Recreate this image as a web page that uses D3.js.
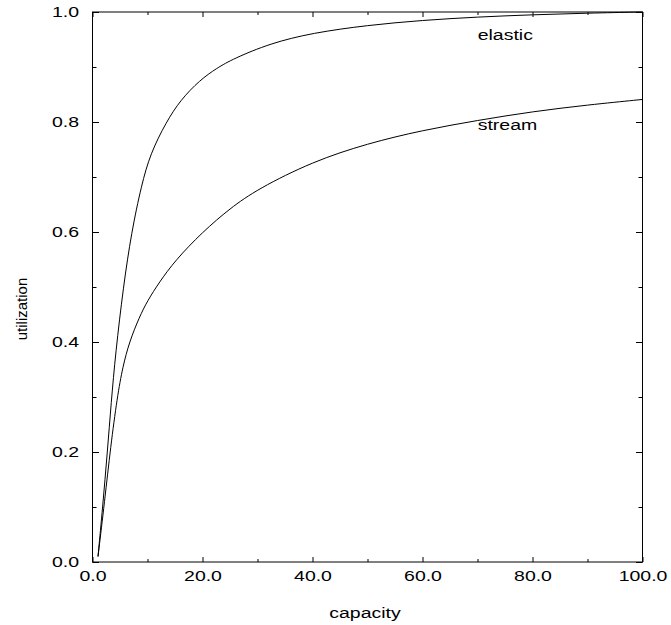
<!DOCTYPE html>
<html>
<head>
<meta charset="utf-8">
<script src="https://cdn.jsdelivr.net/npm/d3@7"></script>
<style>
  html, body { margin: 0; padding: 0; background: #fff; }
  svg text { font-family: "Liberation Sans", Arial, sans-serif; fill: #000; }
</style>
</head>
<body>
<div id="chart"></div>
<script>
// Datos
const elasticCapacity = [1, 1.85, 2.7, 3.4, 4.2, 5.6, 7.1, 8.9, 10.5, 13.4, 16, 19.5, 22.6, 25.6, 32.3, 40, 50, 60, 70, 80, 90, 100];
const elasticUtil     = [0.01, 0.10, 0.20, 0.29, 0.38, 0.50, 0.60, 0.685, 0.742, 0.80, 0.84, 0.876, 0.898, 0.915, 0.943, 0.962, 0.976, 0.985, 0.991, 0.995, 0.998, 1.0];

const streamCapacity = [1, 2.2, 3.3, 4.5, 5.5, 6.7, 8.5, 10, 12.1, 15, 20, 25, 30, 40, 50, 60, 70, 80, 90, 100];
const streamUtil     = [0.01, 0.11, 0.21, 0.30, 0.355, 0.40, 0.445, 0.475, 0.508, 0.548, 0.60, 0.643, 0.678, 0.728, 0.761, 0.785, 0.803, 0.819, 0.831, 0.841];

const xMajorTicks = [0, 20, 40, 60, 80, 100];
const xMinorTicks = [10, 30, 50, 70, 90];
const yMajorTicks = [0, 0.2, 0.4, 0.6, 0.8, 1.0];
const yMinorTicks = [0.1, 0.3, 0.5, 0.7, 0.9];

const width = 671, height = 625;
const margin = { top: 12, right: 28.5, bottom: 63, left: 92.5 };
const innerW = width - margin.left - margin.right;
const innerH = height - margin.top - margin.bottom;
const stretch = 1.3; // el texto horizontal del original está ensanchado

const svg = d3.select('#chart')
  .append('svg')
  .attr('width', width)
  .attr('height', height);

const g = svg.append('g')
  .attr('transform', `translate(${margin.left},${margin.top})`);

const x = d3.scaleLinear().domain([0, 100]).range([0, innerW]);
const y = d3.scaleLinear().domain([0, 1]).range([innerH, 0]);

const fmt = d3.format('.1f');

// Ejes: marcas principales y secundarias en los cuatro lados
function drawAxis(axisFn, scale, ticks, size, translate, labels, padding) {
  const a = axisFn(scale).tickValues(ticks).tickSizeInner(-size).tickSizeOuter(0)
    .tickPadding(padding || 0)
    .tickFormat(labels ? fmt : '');
  const sel = g.append('g').attr('transform', translate).call(a);
  sel.select('.domain').remove();
  sel.selectAll('.tick line').attr('stroke', '#000').attr('stroke-width', 1);
  sel.selectAll('.tick text')
    .attr('font-size', 15)
    .attr('font-family', '"Liberation Sans", Arial, sans-serif')
    .attr('fill', '#000')
    .attr('transform', `scale(${stretch},1)`);
  return sel;
}

drawAxis(d3.axisBottom, x, xMajorTicks, 5, `translate(0,${innerH})`, true, 8);
drawAxis(d3.axisBottom, x, xMinorTicks, 3, `translate(0,${innerH})`, false);
drawAxis(d3.axisTop, x, xMajorTicks, 5, 'translate(0,0)', false);
drawAxis(d3.axisTop, x, xMinorTicks, 3, 'translate(0,0)', false);
drawAxis(d3.axisLeft, y, yMajorTicks, 6.5, 'translate(0,0)', true, 10.4);
drawAxis(d3.axisLeft, y, yMinorTicks, 4, 'translate(0,0)', false);
drawAxis(d3.axisRight, y, yMajorTicks, 6.5, `translate(${innerW},0)`, false);
drawAxis(d3.axisRight, y, yMinorTicks, 4, `translate(${innerW},0)`, false);

// Marco
g.append('rect')
  .attr('x', 0).attr('y', 0)
  .attr('width', innerW).attr('height', innerH)
  .attr('fill', 'none')
  .attr('stroke', '#000')
  .attr('stroke-width', 1);

// Curvas
const line = d3.line()
  .x(d => x(d[0]))
  .y(d => y(d[1]))
  .curve(d3.curveBasis);

const series = [
  { name: 'elastic', pts: d3.zip(elasticCapacity, elasticUtil) },
  { name: 'stream', pts: d3.zip(streamCapacity, streamUtil) }
];

g.selectAll('.curve')
  .data(series)
  .join('path')
  .attr('class', 'curve')
  .attr('d', d => line(d.pts))
  .attr('fill', 'none')
  .attr('stroke', '#000')
  .attr('stroke-width', 1);

// Etiquetas de las curvas
svg.append('text')
  .attr('transform', `translate(477.7,39.5) scale(${stretch},1)`)
  .attr('font-size', 15)
  .text('elastic');

svg.append('text')
  .attr('transform', `translate(477.7,129.5) scale(${stretch},1)`)
  .attr('font-size', 15)
  .text('stream');

// Títulos de ejes
svg.append('text')
  .attr('transform', `translate(365,618) scale(${stretch},1)`)
  .attr('text-anchor', 'middle')
  .attr('font-size', 15)
  .text('capacity');

svg.append('text')
  .attr('transform', 'translate(26.5,309) rotate(-90)')
  .attr('text-anchor', 'middle')
  .attr('font-size', 15)
  .text('utilization');
</script>
</body>
</html>
